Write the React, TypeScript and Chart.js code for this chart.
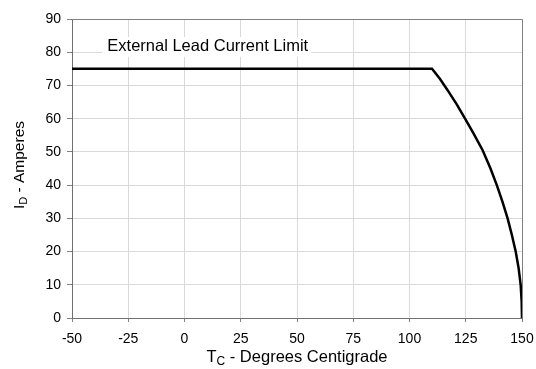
import React, { useEffect, useRef } from 'react';
import { Chart, registerables } from 'chart.js';

Chart.register(...registerables);

// Case temperature (°C) and drain current (A)
const tempC = [-50, 110, 113.5, 117, 121, 124.7, 128.5, 132.5, 136, 138.8, 141.3, 143.6, 145.5, 147.2, 148.5, 149.4, 149.85, 150];
const currentA = [75, 75, 72, 68.5, 64.3, 60, 55.5, 50.5, 45, 40, 35, 30, 25, 20, 15, 10, 5, 0];

const xMin = -50;
const xMax = 150;
const xStep = 25;
const yMin = 0;
const yMax = 90;
const yStep = 10;

const annotationText = 'External Lead Current Limit';
const annotationX = -34.3;
const annotationY = 81.6;

const FONT = '"Liberation Sans", Arial, Helvetica, sans-serif';

const decorPlugin = {
  id: 'decor',
  beforeDatasetsDraw(chart: any) {
    const { ctx, chartArea } = chart;
    const xs = chart.scales.x;
    const ys = chart.scales.y;
    ctx.save();
    ctx.strokeStyle = '#808080';
    ctx.lineWidth = 1;
    ctx.beginPath();
    ctx.moveTo(chartArea.left, chartArea.top + 0.5);
    ctx.lineTo(chartArea.right + 0.5, chartArea.top + 0.5);
    ctx.lineTo(chartArea.right + 0.5, chartArea.bottom);
    ctx.stroke();
    ctx.font = '16.5px ' + FONT;
    const px = xs.getPixelForValue(annotationX);
    const py = ys.getPixelForValue(annotationY);
    const w = ctx.measureText(annotationText).width;
    ctx.fillStyle = '#ffffff';
    ctx.fillRect(px - 5, py - 10, w + 8, 20);
    ctx.fillStyle = '#000000';
    ctx.textBaseline = 'middle';
    ctx.textAlign = 'left';
    ctx.fillText(annotationText, px, py);
    ctx.restore();
  },
  afterDraw(chart: any) {
    const { ctx, chartArea } = chart;
    ctx.save();
    ctx.fillStyle = '#000000';
    ctx.textBaseline = 'alphabetic';
    ctx.textAlign = 'left';
    const drawSub = (main: string, sub: string, rest: string, cx: number, cy: number, size: number) => {
      const big = size + 'px ' + FONT;
      const small = Math.round(size * 0.7) + 'px ' + FONT;
      ctx.font = big;
      const w1 = ctx.measureText(main).width;
      const w3 = ctx.measureText(rest).width;
      ctx.font = small;
      const w2 = ctx.measureText(sub).width;
      let x = cx - (w1 + w2 + w3) / 2;
      ctx.font = big;
      ctx.fillText(main, x, cy);
      x += w1;
      ctx.font = small;
      ctx.fillText(sub, x, cy + 3);
      x += w2;
      ctx.font = big;
      ctx.fillText(rest, x, cy);
    };
    const cxX = (chartArea.left + chartArea.right) / 2;
    drawSub('T', 'C', ' - Degrees Centigrade', cxX, 362, 16.5);
    ctx.translate(24, 165);
    ctx.rotate(-Math.PI / 2);
    drawSub('I', 'D', ' - Amperes', 0, 0, 15.5);
    ctx.restore();
  },
};

export default function App() {
  const canvasRef = useRef<HTMLCanvasElement | null>(null);

  useEffect(() => {
    if (!canvasRef.current) return;
    const points = tempC.map((t, i) => ({ x: t, y: currentA[i] }));
    const tickFont = { size: 14, family: FONT };
    const chart = new Chart(canvasRef.current, {
      type: 'line',
      data: {
        datasets: [
          {
            data: points,
            borderColor: '#000000',
            borderWidth: 2.5,
            pointRadius: 0,
            tension: 0,
            fill: false,
          },
        ],
      },
      options: {
        animation: false,
        responsive: false,
        layout: { padding: { top: 19, right: 14, left: 0, bottom: 0 } },
        plugins: { legend: { display: false }, tooltip: { enabled: false } },
        scales: {
          x: {
            type: 'linear',
            min: xMin,
            max: xMax,
            ticks: { stepSize: xStep, color: '#000000', font: tickFont, padding: 9, maxRotation: 0 },
            grid: { color: '#d9d9d9', tickColor: '#808080', tickLength: 4 },
            border: { color: '#707070', width: 1 },
            afterFit: (s: any) => { s.height = 51; s.paddingLeft = 0; s.paddingRight = 0; },
          },
          y: {
            min: yMin,
            max: yMax,
            ticks: { stepSize: yStep, color: '#000000', font: tickFont, padding: 6 },
            grid: { color: '#d9d9d9', tickColor: '#808080', tickLength: 5 },
            border: { color: '#707070', width: 1 },
            afterFit: (s: any) => { s.width = 72; s.paddingTop = 0; s.paddingBottom = 0; },
          },
        },
      },
      plugins: [decorPlugin],
    } as any);
    return () => chart.destroy();
  }, []);

  return (
    <div style={{ position: 'absolute', left: 0, top: 0, width: 536, height: 369, background: '#fff' }}>
      <canvas ref={canvasRef} width={536} height={369} style={{ display: 'block' }} />
    </div>
  );
}
